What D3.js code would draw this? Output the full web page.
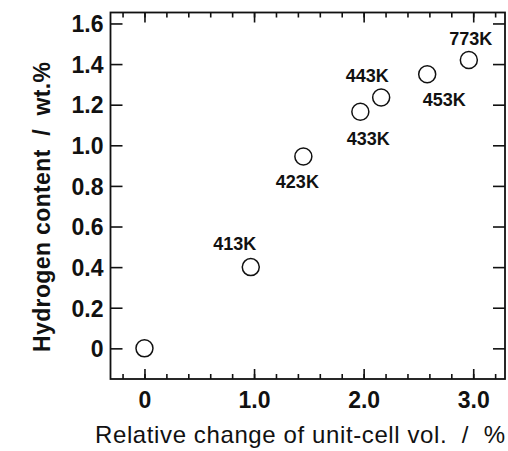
<!DOCTYPE html>
<html>
<head>
<meta charset="utf-8">
<script src="https://cdn.jsdelivr.net/npm/d3@7"></script>
<style>
  body { margin: 0; background: #fff; }
  svg { display: block; font-family: "Liberation Sans", Arial, sans-serif; }
</style>
</head>
<body>
<div id="chart"></div>
<script>
"use strict";

// values
var volChange = [0, 0.97, 1.45, 1.97, 2.16, 2.58, 2.96];
var hydrogen  = [0, 0.40, 0.945, 1.165, 1.235, 1.35, 1.42];
var tempLabels = ["", "413K", "423K", "433K", "443K", "453K", "773K"];

var xTickValues = [0, 1, 2, 3];
var xTickLabels = ["0", "1.0", "2.0", "3.0"];
var yTickValues = [0, 0.2, 0.4, 0.6, 0.8, 1.0, 1.2, 1.4, 1.6];
var yTickLabels = ["0", "0.2", "0.4", "0.6", "0.8", "1.0", "1.2", "1.4", "1.6"];
var xMinorTicks = [-0.2, 0, 0.2, 0.4, 0.6, 0.8, 1.0, 1.2, 1.4, 1.6, 1.8, 2.0, 2.2, 2.4, 2.6, 2.8, 3.0, 3.2];

// where each temperature label sits relative to its point (dx, dy)
var labelOffsets = [[0, 0], [-16, -17], [-6, 32], [8, 33], [-14, -16], [17, 32], [2, -15]];

var width = 508, height = 451;
var margin = { top: 12.5, right: 3, bottom: 72, left: 110.5 };

var svg = d3.select("#chart")
            .append("svg")
            .attr("width", width)
            .attr("height", height);

var x = d3.scaleLinear()
          .domain([-0.31, 3.29])
          .range([margin.left, width - margin.right]);

var y = d3.scaleLinear()
          .domain([-0.151, 1.654])
          .range([height - margin.bottom, margin.top]);

var x0 = margin.left, x1 = width - margin.right;
var y0 = height - margin.bottom, y1 = margin.top;

// minor ticks on bottom and top
svg.append("g")
   .attr("transform", "translate(0," + y0 + ")")
   .call(d3.axisBottom(x).tickValues(xMinorTicks).tickSize(-5).tickFormat(""));
svg.append("g")
   .attr("transform", "translate(0," + y1 + ")")
   .call(d3.axisTop(x).tickValues(xMinorTicks).tickSize(-5).tickFormat(""));

// major x ticks with labels
var xAxis = svg.append("g")
   .attr("transform", "translate(0," + y0 + ")")
   .call(d3.axisBottom(x).tickValues(xTickValues).tickSize(-10)
           .tickFormat(function(d, i) { return xTickLabels[i]; }));
xAxis.selectAll("text")
     .attr("y", 29).attr("dy", null);

svg.append("g")
   .attr("transform", "translate(0," + y1 + ")")
   .call(d3.axisTop(x).tickValues(xTickValues).tickSize(-10).tickFormat(""));

// y ticks
var yAxis = svg.append("g")
   .attr("transform", "translate(" + x0 + ",0)")
   .call(d3.axisLeft(y).tickValues(yTickValues).tickSize(-12).tickPadding(7)
           .tickFormat(function(d, i) { return yTickLabels[i]; }));
yAxis.selectAll("text").attr("dy", "0.36em");

svg.append("g")
   .attr("transform", "translate(" + x1 + ",0)")
   .call(d3.axisRight(y).tickValues(yTickValues).tickSize(-12).tickFormat(""));

svg.selectAll(".domain").remove();
svg.selectAll(".tick line").attr("stroke", "#111").attr("stroke-width", 1.6);
svg.selectAll(".tick text")
   .attr("fill", "#111")
   .style("font-size", "23px")
   .style("font-weight", "bold")
   .style("font-family", "Liberation Sans, Arial, sans-serif");

// frame
svg.append("rect")
   .attr("x", x0).attr("y", y1)
   .attr("width", x1 - x0).attr("height", y0 - y1)
   .attr("fill", "none")
   .attr("stroke", "#111")
   .attr("stroke-width", 1.8);

// points
svg.selectAll("circle.pt")
   .data(volChange)
   .enter()
   .append("circle")
   .attr("class", "pt")
   .attr("cx", function(d) { return x(d); })
   .attr("cy", function(d, i) { return y(hydrogen[i]); })
   .attr("r", 8.5)
   .attr("fill", "none")
   .attr("stroke", "#111")
   .attr("stroke-width", 1.5);

// temperature labels
svg.selectAll("text.temp")
   .data(tempLabels)
   .enter()
   .append("text")
   .attr("class", "temp")
   .attr("x", function(d, i) { return x(volChange[i]) + labelOffsets[i][0]; })
   .attr("y", function(d, i) { return y(hydrogen[i]) + labelOffsets[i][1]; })
   .attr("text-anchor", "middle")
   .attr("fill", "#111")
   .style("font-size", "18px")
   .style("font-weight", "bold")
   .text(function(d) { return d; });

// axis titles
svg.append("text")
   .attr("x", 300)
   .attr("y", 443)
   .attr("text-anchor", "middle")
   .attr("fill", "#111")
   .attr("textLength", 410)
   .attr("lengthAdjust", "spacing")
   .style("font-size", "24px")
   .style("white-space", "pre")
   .text("Relative change of unit-cell vol.  /  %");

svg.append("text")
   .attr("transform", "translate(50,207) rotate(-90)")
   .attr("text-anchor", "middle")
   .attr("fill", "#111")
   .attr("textLength", 290)
   .attr("lengthAdjust", "spacing")
   .style("font-size", "23px")
   .style("font-weight", "bold")
   .style("white-space", "pre")
   .text("Hydrogen content  /  wt.%");
</script>
</body>
</html>
